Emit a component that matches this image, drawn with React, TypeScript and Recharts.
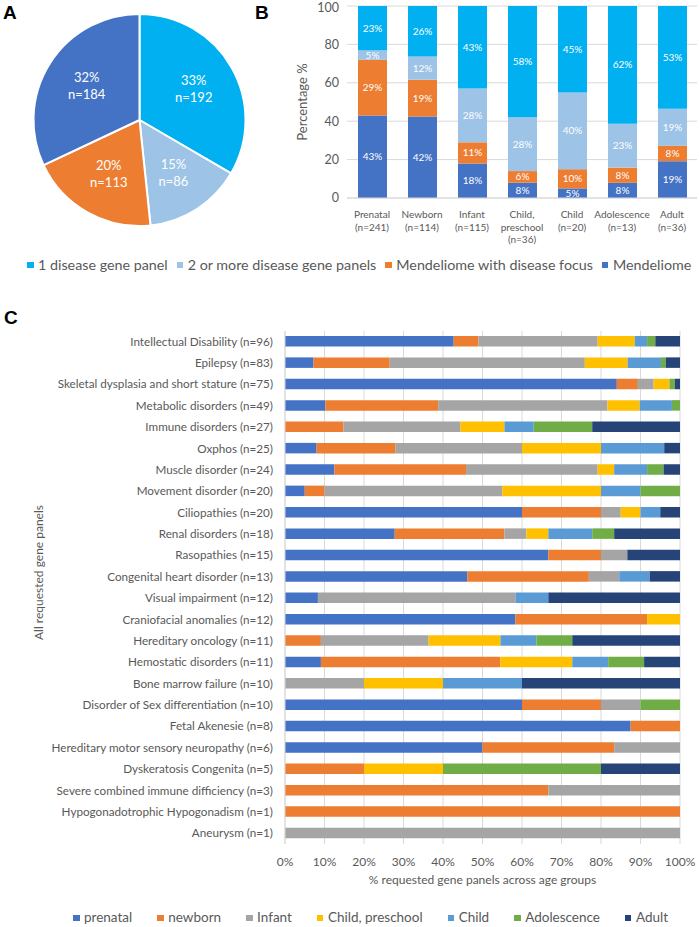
import React from "react"
import {
  PieChart,
  Pie,
  Cell,
  BarChart,
  Bar,
  XAxis,
  YAxis,
  CartesianGrid,
  LabelList,
  Label,
} from "recharts"

// panel A / B: type of requested panel
const panelTypes = ["1 disease gene panel", "2 or more disease gene panels", "Mendeliome with disease focus", "Mendeliome"]
const panelTypeColors = ["#00B0F0", "#9DC3E6", "#ED7D31", "#4472C4"]
const pieCounts = [192, 86, 113, 184]
const piePercents = [33, 15, 20, 32]

// panel B: share per age group (%)
const ageGroups = ["Prenatal", "Newborn", "Infant", "Child, preschool", "Child", "Adolescence", "Adult"]
const ageTickLines = [
  ["Prenatal", "(n=241)"],
  ["Newborn", "(n=114)"],
  ["Infant", "(n=115)"],
  ["Child,", "preschool", "(n=36)"],
  ["Child", "(n=20)"],
  ["Adolescence", "(n=13)"],
  ["Adult", "(n=36)"],
]
const mendeliomePct = [43, 42, 18, 8, 5, 8, 19]
const mendeliomeFocusPct = [29, 19, 11, 6, 10, 8, 8]
const twoOrMorePct = [5, 12, 28, 28, 40, 23, 19]
const onePanelPct = [23, 26, 43, 58, 45, 62, 53]
const pctTicks = [0, 0.2, 0.4, 0.6, 0.8, 1]

// panel C: requested panels per disease group, counts per age group
const diseases = [
  "Intellectual Disability (n=96)",
  "Epilepsy (n=83)",
  "Skeletal dysplasia and short stature (n=75)",
  "Metabolic disorders (n=49)",
  "Immune disorders (n=27)",
  "Oxphos (n=25)",
  "Muscle disorder (n=24)",
  "Movement disorder (n=20)",
  "Ciliopathies (n=20)",
  "Renal disorders (n=18)",
  "Rasopathies (n=15)",
  "Congenital heart disorder (n=13)",
  "Visual impairment (n=12)",
  "Craniofacial anomalies (n=12)",
  "Hereditary oncology (n=11)",
  "Hemostatic disorders (n=11)",
  "Bone marrow failure (n=10)",
  "Disorder of Sex differentiation (n=10)",
  "Fetal Akenesie (n=8)",
  "Hereditary motor sensory neuropathy (n=6)",
  "Dyskeratosis Congenita (n=5)",
  "Severe combined immune difficiency (n=3)",
  "Hypogonadotrophic Hypogonadism (n=1)",
  "Aneurysm (n=1)",
]
const prenatal = [41, 6, 63, 5, 0, 2, 3, 1, 12, 5, 10, 6, 1, 7, 0, 1, 0, 6, 7, 3, 0, 0, 0, 0]
const newborn = [6, 16, 4, 14, 4, 5, 8, 1, 4, 5, 2, 4, 0, 4, 1, 5, 0, 2, 1, 2, 1, 2, 1, 0]
const infant = [29, 41, 3, 21, 8, 8, 8, 9, 1, 1, 1, 1, 6, 0, 3, 0, 2, 1, 0, 1, 0, 1, 0, 1]
const childPreschool = [9, 9, 3, 4, 3, 5, 1, 5, 1, 1, 0, 0, 0, 1, 2, 2, 2, 0, 0, 0, 1, 0, 0, 0]
const child = [3, 7, 0, 4, 2, 4, 2, 2, 1, 2, 0, 1, 1, 0, 1, 1, 2, 0, 0, 0, 0, 0, 0, 0]
const adolescence = [2, 1, 1, 1, 4, 0, 1, 2, 0, 1, 0, 0, 0, 0, 1, 1, 0, 1, 0, 0, 2, 0, 0, 0]
const adult = [6, 3, 1, 0, 6, 1, 1, 0, 1, 3, 2, 1, 4, 0, 3, 1, 4, 0, 0, 0, 1, 0, 0, 0]
const ageSeries = ["prenatal", "newborn", "Infant", "Child, preschool", "Child", "Adolescence", "Adult"]
const ageColors = ["#4472C4", "#ED7D31", "#A5A5A5", "#FFC000", "#5B9BD5", "#70AD47", "#264478"]
const tenthTicks = [0, 0.1, 0.2, 0.3, 0.4, 0.5, 0.6, 0.7, 0.8, 0.9, 1]

const FONT = "Lato, 'Open Sans', sans-serif"
const GREY = "#595959"
const RADIAN = Math.PI / 180

const pieData = panelTypes.map((name, i) => ({ name, count: pieCounts[i], pct: piePercents[i] }))

const ageData = ageGroups.map((name, i) => ({
  name,
  mendeliome: mendeliomePct[i],
  focus: mendeliomeFocusPct[i],
  twoOrMore: twoOrMorePct[i],
  onePanel: onePanelPct[i],
}))
const ageKeys = ["mendeliome", "focus", "twoOrMore", "onePanel"]
const ageKeyColors = ["#4472C4", "#ED7D31", "#9DC3E6", "#00B0F0"]

const countSeries = [prenatal, newborn, infant, childPreschool, child, adolescence, adult]
const diseaseData = diseases.map((name, i) => {
  const row: any = { name }
  countSeries.forEach((arr, k) => (row[`g${k}`] = arr[i]))
  return row
})

function PieLabel(props: any) {
  const { cx, cy, midAngle, outerRadius, index } = props
  const r = outerRadius * 0.59
  const x = cx + r * Math.cos(-midAngle * RADIAN)
  const y = cy + r * Math.sin(-midAngle * RADIAN)
  return (
    <text x={x} y={y} fill="#fff" textAnchor="middle" fontSize={13} fontFamily={FONT}>
      <tspan x={x} dy={-4}>{pieData[index].pct}%</tspan>
      <tspan x={x} dy={17}>n={pieData[index].count}</tspan>
    </text>
  )
}

function AgeTick(props: any) {
  const { x, y, payload } = props
  const lines = ageTickLines[ageGroups.indexOf(payload.value)] || [payload.value]
  return (
    <text x={x} y={y} textAnchor="middle" fill={GREY} fontSize={10} fontFamily={FONT}>
      {lines.map((l, i) => (
        <tspan key={i} x={x} dy={i === 0 ? 12 : 12.5}>
          {l}
        </tspan>
      ))}
    </text>
  )
}

function DiseaseTick(props: any) {
  const { x, y, payload } = props
  return (
    <text x={x - 4} y={y} dy={4} textAnchor="end" fill={GREY} fontSize={11.7} fontFamily={FONT}>
      {payload.value}
    </text>
  )
}

function RotatedTitle({ viewBox, value, dx, dy = 0, size }: any) {
  const x = viewBox.x + dx
  const y = viewBox.y + viewBox.height / 2 + dy
  return (
    <text x={x} y={y} transform={`rotate(-90 ${x} ${y})`} textAnchor="middle" dominantBaseline="central" fill={GREY} fontSize={size} fontFamily={FONT}>
      {value}
    </text>
  )
}

function PanelLetter({ letter, left, top }: { letter: string; left: number; top: number }) {
  return (
    <div style={{ position: "absolute", left, top, fontFamily: "'Liberation Sans', Arial, sans-serif", fontWeight: 700, fontSize: 19, lineHeight: "19px" }}>
      {letter}
    </div>
  )
}

function SwatchLegend({ names, colors, top, left, gap, size }: { names: string[]; colors: string[]; top: number; left: number; gap: number; size: number }) {
  return (
    <div style={{ position: "absolute", top, left, display: "flex", gap, fontFamily: FONT, fontSize: size, color: GREY, whiteSpace: "nowrap", lineHeight: `${size + 4}px` }}>
      {names.map((n, i) => (
        <div key={n} style={{ display: "flex", alignItems: "center" }}>
          <span style={{ width: 6.5, height: 6.5, background: colors[i], marginRight: 4.5, display: "inline-block" }} />
          {n}
        </div>
      ))}
    </div>
  )
}

export default function App() {
  return (
    <div style={{ position: "absolute", left: 0, top: 0, width: 699, height: 927, background: "#fff", overflow: "hidden" }}>
      <PanelLetter letter="A" left={3} top={2.5} />
      <PanelLetter letter="B" left={255} top={2.5} />
      <PanelLetter letter="C" left={4} top={307.5} />

      <div style={{ position: "absolute", left: 0, top: 0 }}>
        <PieChart width={270} height={235}>
          <Pie
            data={pieData}
            dataKey="count"
            cx={134.5}
            cy={115}
            outerRadius={106}
            startAngle={90}
            endAngle={-270}
            stroke="#fff"
            strokeWidth={2}
            label={PieLabel}
            labelLine={false}
            isAnimationActive={false}
          >
            {pieData.map((d, i) => (
              <Cell key={d.name} fill={panelTypeColors[i]} />
            ))}
          </Pie>
        </PieChart>
      </div>

      <div style={{ position: "absolute", left: 280, top: 0 }}>
        <BarChart width={419} height={250} data={ageData} stackOffset="expand" barSize={29} margin={{ top: 6, right: 2, left: 0, bottom: 0 }}>
          <CartesianGrid vertical={false} stroke="#d9d9d9" />
          <XAxis dataKey="name" tick={AgeTick} tickLine={false} axisLine={{ stroke: "#d9d9d9" }} height={52} interval={0} />
          <YAxis
            width={67}
            domain={[0, 1]}
            ticks={pctTicks}
            tickFormatter={(v) => `${Math.round(v * 100)}`}
            tick={{ fill: GREY, fontSize: 12.5, fontFamily: FONT }}
            tickLine={false}
            axisLine={false}
          >
            <Label content={(p: any) => <RotatedTitle {...p} value="Percentage %" dx={22} size={13} />} />
          </YAxis>
          {ageKeys.map((k, i) => (
            <Bar key={k} dataKey={k} stackId="a" fill={ageKeyColors[i]} isAnimationActive={false}>
              <LabelList dataKey={k} position="center" formatter={(v: any) => `${v}%`} fill="#fff" fontSize={10} fontFamily={FONT} />
            </Bar>
          ))}
        </BarChart>
      </div>

      <SwatchLegend names={panelTypes} colors={panelTypeColors} top={256} left={27} gap={9} size={14.3} />

      <div style={{ position: "absolute", left: 0, top: 310 }}>
        <BarChart
          width={699}
          height={590}
          data={diseaseData}
          layout="vertical"
          stackOffset="expand"
          barSize={10.5}
          margin={{ top: 21, right: 19, left: 20, bottom: 10 }}
        >
          <CartesianGrid horizontal={false} stroke="#d9d9d9" />
          <XAxis
            type="number"
            ticks={tenthTicks}
            tickFormatter={(v) => `${Math.round(v * 100)}%`}
            tick={{ fill: GREY, fontSize: 12, fontFamily: FONT }}
            tickLine={false}
            axisLine={false}
            tickMargin={7}
            height={46}
          >
            <Label value="% requested gene panels across age groups" position="insideBottom" offset={6} fill={GREY} fontSize={12} fontFamily={FONT} />
          </XAxis>
          <YAxis
            type="category"
            dataKey="name"
            width={265}
            interval={0}
            tick={DiseaseTick}
            tickLine={false}
            axisLine={{ stroke: "#d9d9d9" }}
          >
            <Label content={(p: any) => <RotatedTitle {...p} value="All requested gene panels" dx={18} dy={-15} size={12} />} />
          </YAxis>
          {ageSeries.map((s, i) => (
            <Bar key={s} dataKey={`g${i}`} name={s} stackId="c" fill={ageColors[i]} isAnimationActive={false} />
          ))}
        </BarChart>
      </div>

      <SwatchLegend names={ageSeries} colors={ageColors} top={909} left={73} gap={25} size={13.5} />
    </div>
  )
}
